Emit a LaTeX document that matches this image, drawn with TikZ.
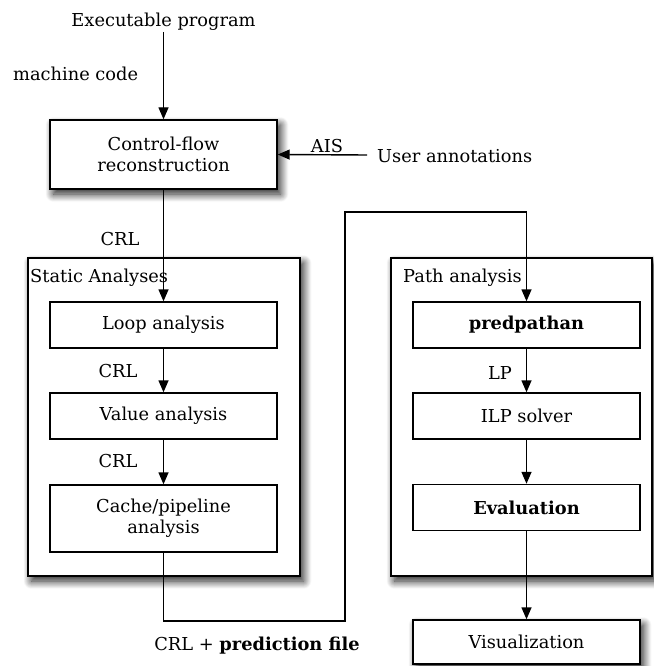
\documentclass[tikz,border=0pt]{standalone}
\usepackage{fontspec}
\setmainfont{DejaVu Serif}
\usetikzlibrary{shadows.blur,arrows.meta}
\begin{document}
\begin{tikzpicture}[x=1pt,y=-1pt,
  font=\fontsize{17.8}{21}\selectfont,
  box/.style={draw,line width=1.4pt,fill=white,align=center,inner sep=0pt},
  shadowed/.style={blur shadow={shadow xshift=3.5pt,shadow yshift=-5pt,
    shadow blur radius=8pt,shadow blur steps=16,shadow opacity=90}},
  arr/.style={-{Triangle[length=12pt,width=10pt]},line width=1.4pt},
  lbl/.style={inner sep=0pt}]
\useasboundingbox (0,0) rectangle (653,666);

% group frames
\node[box,shadowed,minimum width=272pt,minimum height=318pt] (static) at (164,417) {};
\node[box,shadowed,minimum width=261pt,minimum height=318pt] (path) at (521.5,417) {};
\node[lbl,anchor=base west] (staticlbl) at (30,282) {Static Analyses};
\node[lbl,anchor=base west] (pathlbl) at (403,282) {Path analysis};

% processing steps
\node[box,shadowed,minimum width=227pt,minimum height=69pt] (cfr) at (163.5,154.5) {Control-flow\\reconstruction};
\node[box,minimum width=227pt,minimum height=46pt] (loop) at (163.5,325) {Loop analysis};
\node[box,minimum width=227pt,minimum height=46pt] (value) at (163.5,416) {Value analysis};
\node[box,minimum width=227pt,minimum height=67pt] (cache) at (163.5,518.5) {Cache/pipeline\\analysis};
\node[box,minimum width=227pt,minimum height=46pt] (pred) at (526.5,325) {\bfseries predpathan};
\node[box,minimum width=227pt,minimum height=46pt] (ilp) at (526.5,416) {ILP solver};
\node[box,minimum width=227pt,minimum height=46pt] (eval) at (526.5,507.5) {\bfseries Evaluation};
\node[box,shadowed,minimum width=227pt,minimum height=44pt] (vis) at (526.5,642) {Visualization};

% inputs and edge labels
\node[lbl,anchor=base] (exe) at (163.5,27) {Executable program};
\node[lbl,anchor=base west] (mc) at (13,81) {machine code};
\node[lbl,anchor=base west] (user) at (377,162) {User annotations};
\coordinate (aisstart) at (367,155);
\node[lbl,anchor=base] (ais) at (327,152) {AIS};
\node[lbl,anchor=base] (crl1) at (120,245) {CRL};
\node[lbl,anchor=base] (crl2) at (118,377) {CRL};
\node[lbl,anchor=base] (crl3) at (118,467) {CRL};
\node[lbl,anchor=base] (lp) at (500,379) {LP};
\node[lbl,anchor=base] (pf) at (257,650) {CRL + \textbf{prediction file}};

% connectors
\draw[arr] (exe.south |- 0,32) -- (cfr.north);
\draw[arr] (aisstart) -- (cfr.east);
\draw[arr] (cfr.south) -- (loop.north);
\draw[arr] (loop) -- (value);
\draw[arr] (value) -- (cache);
\draw[arr] (cache.south) -- (163.5,621) -- (345,621) -- (345,212) -- (526.5,212) -- (pred.north);
\draw[arr] (pred) -- (ilp);
\draw[arr] (ilp) -- (eval);
\draw[arr] (eval) -- (vis);
\end{tikzpicture}
\end{document}
